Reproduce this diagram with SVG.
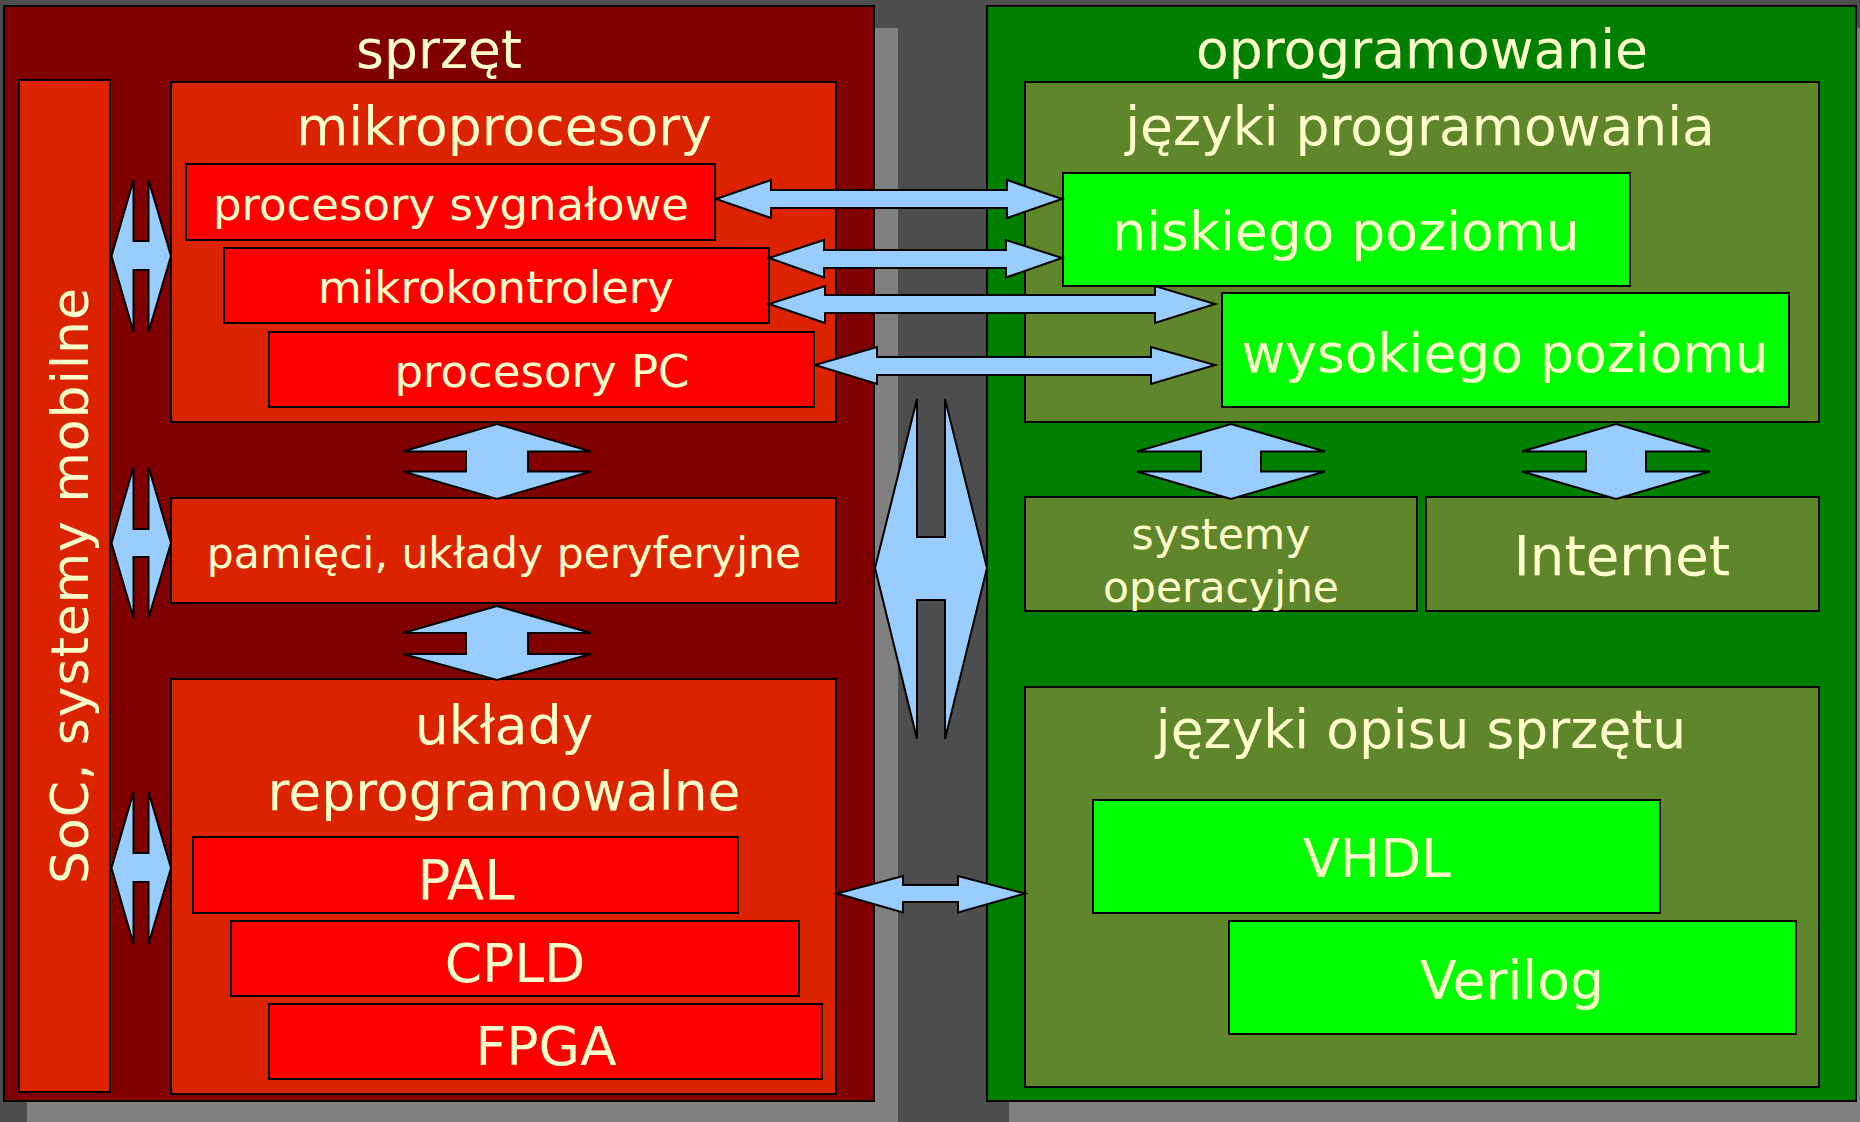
<svg xmlns="http://www.w3.org/2000/svg" width="1860" height="1122" viewBox="0 0 1860 1122">
<style>
text{font-family:"DejaVu Sans","Liberation Sans",sans-serif;fill:#ffffcc;text-anchor:middle}
.b{stroke:#000;stroke-width:2}
.dr{fill:#800000}.or{fill:#dc2300}.rd{fill:#ff0000}
.dg{fill:#007f00}.ol{fill:#5f862a}.lg{fill:#00ff00}
.sh{fill:#808080}
.ar{fill:#99ccff;stroke:#000;stroke-width:2;stroke-linejoin:miter}
.t52{font-size:53.5px}.t45{font-size:45px}.t42{font-size:42.5px}
</style>
<rect x="0" y="0" width="1860" height="1122" fill="#4d4d4d"/>
<rect class="sh" x="27" y="28" width="871" height="1100"/>
<rect class="sh" x="1009" y="28" width="880" height="1100"/>

<g id="sprzet">
<rect class="b dr" x="4" y="6" width="870" height="1095"/>
<text class="t52" x="439" y="68">sprzęt</text>
</g>
<g id="oprogramowanie">
<rect class="b dg" x="987" y="6" width="869" height="1095"/>
<text class="t52" x="1422" y="68">oprogramowanie</text>
</g>

<g id="soc">
<rect class="b or" x="19" y="80" width="91" height="1012"/>
<text class="t52" style="font-size:52px" transform="translate(88,586) rotate(-90)" textLength="596" lengthAdjust="spacing">SoC, systemy mobilne</text>
</g>

<g id="mikroprocesory">
<rect class="b or" x="171" y="82" width="665" height="340"/>
<text class="t52" x="504" y="145">mikroprocesory</text>
</g>
<g id="procesory-sygnalowe">
<rect class="b rd" x="186" y="164" width="529" height="76"/>
<text class="t45" x="451" y="220">procesory sygnałowe</text>
</g>
<g id="mikrokontrolery">
<rect class="b rd" x="224" y="248" width="545" height="75"/>
<text class="t45" x="496" y="303">mikrokontrolery</text>
</g>
<g id="procesory-pc">
<rect class="b rd" x="269" y="332" width="545" height="75"/>
<text class="t45" x="542" y="387">procesory PC</text>
</g>

<g id="pamieci">
<rect class="b or" x="171" y="498" width="665" height="105"/>
<text class="t42" x="504" y="568">pamięci, układy peryferyjne</text>
</g>

<g id="uklady">
<rect class="b or" x="171" y="679" width="665" height="415"/>
<text class="t52" x="504" y="744">układy</text>
<text class="t52" x="504" y="810">reprogramowalne</text>
</g>
<g id="pal">
<rect class="b rd" x="193" y="837" width="545" height="76"/>
<text class="t52" style="font-size:54.5px" x="466" y="899">PAL</text>
</g>
<g id="cpld">
<rect class="b rd" x="231" y="921" width="568" height="75"/>
<text class="t52" x="515" y="982">CPLD</text>
</g>
<g id="fpga">
<rect class="b rd" x="269" y="1004" width="553" height="75"/>
<text class="t52" x="546" y="1065">FPGA</text>
</g>

<g id="jezyki-programowania">
<rect class="b ol" x="1025" y="82" width="794" height="340"/>
<text class="t52" x="1420" y="145">języki programowania</text>
</g>
<g id="niskiego">
<rect class="b lg" x="1063" y="173" width="567" height="113"/>
<text class="t52" x="1346" y="250">niskiego poziomu</text>
</g>
<g id="wysokiego">
<rect class="b lg" x="1222" y="293" width="567" height="114"/>
<text class="t52" x="1505" y="372">wysokiego poziomu</text>
</g>

<g id="systemy-operacyjne">
<rect class="b ol" x="1025" y="497" width="392" height="114"/>
<text class="t42" x="1221" y="549">systemy</text>
<text class="t42" x="1221" y="602">operacyjne</text>
</g>
<g id="internet">
<rect class="b ol" x="1426" y="497" width="393" height="114"/>
<text class="t52" style="font-size:54.5px" x="1622" y="575">Internet</text>
</g>

<g id="jezyki-opisu">
<rect class="b ol" x="1025" y="687" width="794" height="400"/>
<text class="t52" x="1421" y="748">języki opisu sprzętu</text>
</g>
<g id="vhdl">
<rect class="b lg" x="1093" y="800" width="567" height="113"/>
<text class="t52" x="1377" y="877">VHDL</text>
</g>
<g id="verilog">
<rect class="b lg" x="1229" y="921" width="567" height="113"/>
<text class="t52" x="1512" y="999">Verilog</text>
</g>

<g id="connectors">
<polygon class="ar" points="111.5,256 133.5,180 133.5,241 148.5,241 148.5,180 171,256 148.5,332 148.5,270 133.5,270 133.5,332"/>
<polygon class="ar" points="111.5,543 133.5,467 133.5,529 148.5,529 148.5,467 171,543 148.5,618 148.5,557 133.5,557 133.5,618"/>
<polygon class="ar" points="111.5,868 133.5,792 133.5,853 148.5,853 148.5,792 171,868 148.5,944 148.5,882 133.5,882 133.5,944"/>
<polygon class="ar" points="497,424 591,451.5 528,451.5 528,471.5 591,471.5 497,499 403,471.5 466,471.5 466,451.5 403,451.5"/>
<polygon class="ar" points="497,606 591,633 528,633 528,654 591,654 497,680 403,654 466,654 466,633 403,633"/>
<polygon class="ar" points="1231,424 1325,451.5 1261,451.5 1261,471.5 1325,471.5 1231,499 1137,471.5 1201,471.5 1201,451.5 1137,451.5"/>
<polygon class="ar" points="1616,424 1710,451.5 1646,451.5 1646,471.5 1710,471.5 1616,499 1522,471.5 1586,471.5 1586,451.5 1522,451.5"/>
<polygon class="ar" points="875,568 917,399 917,537 945,537 945,399 987,568 945,739 945,600 917,600 917,739"/>
<polygon class="ar" points="716,199 771,180 771,190 1007,190 1007,180 1062,199 1007,218 1007,208 771,208 771,218"/>
<polygon class="ar" points="769,258 824,240 824,250 1006,250 1006,240 1062,258 1006,277.5 1006,268 824,268 824,277.5"/>
<polygon class="ar" points="769,304 825,286 825,295 1155,295 1155,286 1215,304 1155,323 1155,313 825,313 825,323"/>
<polygon class="ar" points="815,365 877,347 877,357 1151,357 1151,347 1215,365 1151,384 1151,375 877,375 877,384"/>
<polygon class="ar" points="837,893.5 903,876 903,885 958,885 958,876 1025,893.5 958,912.5 958,902 903,902 903,912.5"/>
</g>
</svg>
